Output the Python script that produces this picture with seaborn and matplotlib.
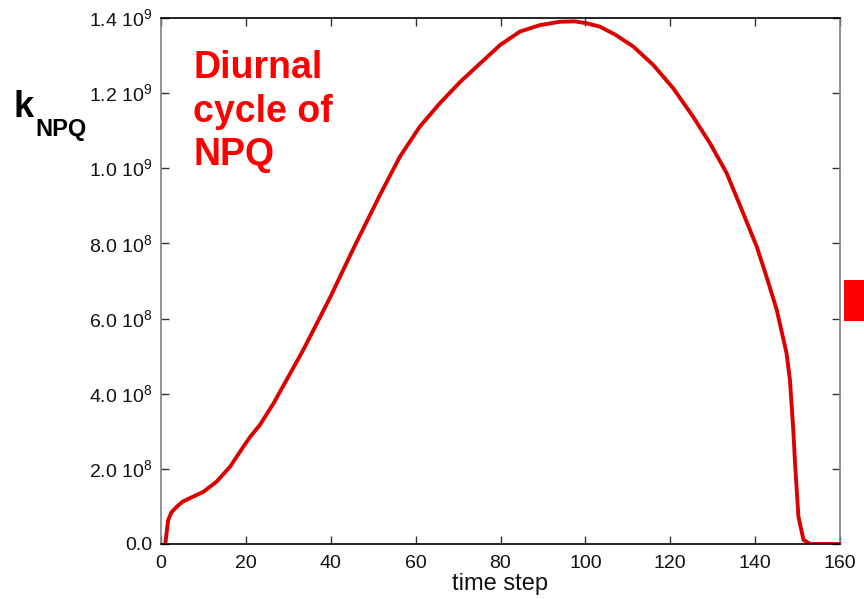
import matplotlib
matplotlib.use("Agg")
import matplotlib.pyplot as plt
import seaborn as sns
import pandas as pd
from matplotlib.patches import Rectangle

sns.set_theme(style="white")
plt.rcParams['font.family'] = ['Liberation Sans', 'DejaVu Sans']
plt.rcParams['mathtext.fontset'] = 'custom'
plt.rcParams['mathtext.rm'] = 'Liberation Sans'
plt.rcParams['mathtext.bf'] = 'Liberation Sans:bold'

# data (time step vs k_NPQ in units of 1e9)
time_step = [1, 1.7, 2.5, 3.7, 5.0, 6.8, 10, 13.1, 16.3, 19.4, 21, 23.3, 26.5, 33.5,
             39.8, 45.5, 51.6, 56.3, 61.0, 65.7, 70.5, 75.2, 79.9, 84.6, 89.3, 94.0,
             97.5, 100.3, 103.4, 107.0, 111.3, 116.0, 120.7, 125.4, 129.4, 133.3,
             137.2, 140.4, 142.7, 145.1, 147.4, 148.2, 149.0, 149.4, 150.2, 151.4,
             153, 160]
k_npq = [0, 0.064, 0.085, 0.099, 0.112, 0.122, 0.139, 0.166, 0.206, 0.259, 0.285,
         0.317, 0.374, 0.516, 0.655, 0.79, 0.929, 1.031, 1.111, 1.173, 1.230, 1.279,
         1.328, 1.364, 1.381, 1.390, 1.391, 1.386, 1.377, 1.356, 1.324, 1.275, 1.213,
         1.137, 1.066, 0.987, 0.880, 0.791, 0.711, 0.623, 0.508, 0.437, 0.303, 0.216,
         0.073, 0.011, 0.0, 0.0]
x_ticks = [0, 20, 40, 60, 80, 100, 120, 140, 160]
y_ticks = [0, 0.2e9, 0.4e9, 0.6e9, 0.8e9, 1.0e9, 1.2e9, 1.4e9]
y_tick_labels = ["0.0", "2.0 10$^{8}$", "4.0 10$^{8}$", "6.0 10$^{8}$", "8.0 10$^{8}$",
                 "1.0 10$^{9}$", "1.2 10$^{9}$", "1.4 10$^{9}$"]

df = pd.DataFrame({"t": time_step, "k": [v * 1e9 for v in k_npq]})

fig = plt.figure(figsize=(8.64, 5.99), dpi=100)
ax = fig.add_axes([161/864, 1 - 544/599, (840-161)/864, (544-18)/599])
sns.lineplot(data=df, x="t", y="k", ax=ax, color="#dd0000", linewidth=2.8)
for ln in ax.lines:
    ln.set_solid_joinstyle("round")
    ln.set_solid_capstyle("round")

ax.set_xlim(0, 160)
ax.set_ylim(0, 1.4e9)
ax.set_xticks(x_ticks)
ax.set_xticklabels([str(v) for v in x_ticks])
ax.set_yticks(y_ticks)
ax.set_yticklabels(y_tick_labels)
ax.tick_params(direction="in", length=6, width=1, color="#333333",
               labelsize=14, labelcolor="#111111", top=True, right=True,
               bottom=True, left=True)
ax.tick_params(axis="x", pad=8)
ax.tick_params(axis="y", pad=6)
ax.set_xlabel("time step", fontsize=17, color="#111111")
ax.xaxis.set_label_coords(0.5, -0.056)
ax.set_ylabel("")
for side in ["left", "right"]:
    ax.spines[side].set_color("#808080")
    ax.spines[side].set_linewidth(1.2)
for side in ["top", "bottom"]:
    ax.spines[side].set_color("#000000")
    ax.spines[side].set_linewidth(1.2)

fig.text(14/864, 1 - 117/599, "k", fontsize=26, fontweight="bold",
         color="black", ha="left", va="baseline")
fig.text(35/864, 1 - 136/599, "NPQ", fontsize=17, fontweight="bold",
         color="black", ha="left", va="baseline")
fig.text(193/864, 1 - 50/599, "Diurnal\ncycle of\nNPQ", fontsize=27,
         fontweight="bold", color="#ff0000", ha="left", va="top", linespacing=1.27)

fig.patches.append(Rectangle((844/864, 1 - 321/599), 20/864, 41/599,
                             transform=fig.transFigure, facecolor="#ff0000",
                             edgecolor="none"))

fig.savefig("out.png", dpi=100)
